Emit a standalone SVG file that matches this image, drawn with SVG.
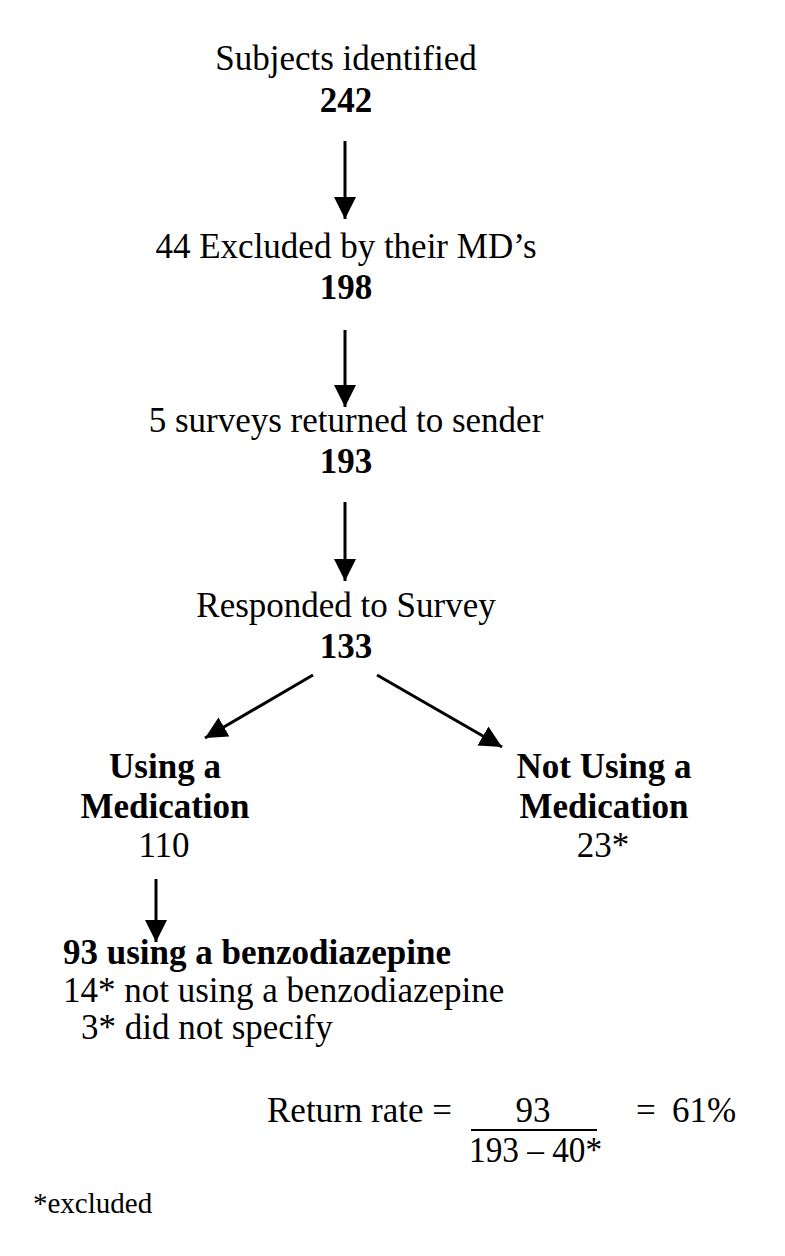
<svg xmlns="http://www.w3.org/2000/svg" width="785" height="1256" viewBox="0 0 785 1256">
  <style>
    text { font-family: "Liberation Serif", "Times New Roman", serif; fill: #000; }
    .t { font-size: 35px; }
    .b { font-size: 35px; font-weight: bold; }
    .c { text-anchor: middle; }
    .s { font-size: 29px; }
    .conn line { stroke: #000; stroke-width: 3; marker-end: url(#ah); }
  </style>
  <defs>
    <marker id="ah" viewBox="0 0 22 22" refX="22" refY="11" markerWidth="22" markerHeight="22" markerUnits="userSpaceOnUse" orient="auto">
      <path d="M0,0 L22,11 L0,22 z" fill="#000"/>
    </marker>
  </defs>
  <rect width="785" height="1256" fill="#fff"/>

  <g id="n-identified">
    <text class="t c" x="346" y="70">Subjects identified</text>
    <text class="b c" x="346" y="112">242</text>
  </g>
  <g id="n-excluded">
    <text class="t c" x="346" y="258">44 Excluded by their MD’s</text>
    <text class="b c" x="346" y="299">198</text>
  </g>
  <g id="n-returned">
    <text class="t c" x="346" y="432">5 surveys returned to sender</text>
    <text class="b c" x="346" y="473">193</text>
  </g>
  <g id="n-responded">
    <text class="t c" x="346" y="617">Responded to Survey</text>
    <text class="b c" x="346" y="658">133</text>
  </g>
  <g id="n-using">
    <text class="b c" x="165" y="778">Using a</text>
    <text class="b c" x="165" y="818">Medication</text>
    <text class="t c" x="164" y="857">110</text>
  </g>
  <g id="n-notusing">
    <text class="b c" x="604" y="778">Not Using a</text>
    <text class="b c" x="604" y="818">Medication</text>
    <text class="t c" x="603" y="857">23*</text>
  </g>
  <g id="n-benzo">
    <text class="b" x="63" y="964">93 using a benzodiazepine</text>
    <text class="t" x="63" y="1002">14* not using a benzodiazepine</text>
    <text class="t" x="81" y="1039">3* did not specify</text>
  </g>
  <g id="n-rate">
    <text class="t" x="267" y="1122">Return rate =</text>
    <text class="t c" x="533" y="1122">93</text>
    <line x1="471" y1="1130" x2="597" y2="1130" stroke="#000" stroke-width="2"/>
    <text class="t" x="469" y="1162" textLength="133" lengthAdjust="spacingAndGlyphs">193 – 40*</text>
    <text class="t" x="636" y="1122">=</text>
    <text class="t" x="672" y="1122">61%</text>
  </g>
  <g id="n-note">
    <text class="s" x="33" y="1213">*excluded</text>
  </g>

  <g class="conn" id="connectors">
    <line x1="345" y1="141" x2="345" y2="219"/>
    <line x1="345" y1="330" x2="345" y2="407"/>
    <line x1="345" y1="502" x2="345" y2="581"/>
    <line x1="313" y1="675" x2="205" y2="738"/>
    <line x1="377" y1="675" x2="502" y2="747"/>
    <line x1="156" y1="879" x2="156" y2="942"/>
  </g>
</svg>
